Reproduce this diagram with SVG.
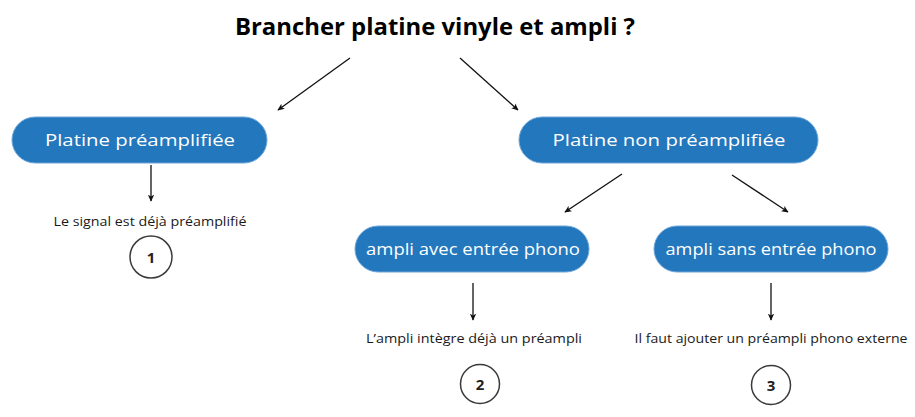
<svg xmlns="http://www.w3.org/2000/svg" width="915" height="417" viewBox="0 0 915 417">
<defs>
<marker id="ah" viewBox="0 0 10 10" refX="9" refY="5" markerWidth="7" markerHeight="7" markerUnits="userSpaceOnUse" orient="auto">
<path d="M0,0.5 L10,5 L0,9.5 L2.5,5 Z" fill="#111"/>
</marker>
<style>
.box{fill:#2377BD;stroke:#6fa6d8;stroke-width:1}
.lbl{font-family:"Open Sans","Liberation Sans",sans-serif;font-size:17px;fill:#fff;text-anchor:middle}
.note{font-family:"Open Sans","Liberation Sans",sans-serif;font-size:12.5px;fill:#1a1a1a;text-anchor:middle}
.num{font-family:"Open Sans","Liberation Sans",sans-serif;font-size:15px;font-weight:bold;fill:#222;text-anchor:middle}
.circ{fill:#fff;stroke:#3a3a3a;stroke-width:1.5}
.con{stroke:#111;stroke-width:1.3;fill:none;marker-end:url(#ah)}
.title{font-family:"Open Sans","Liberation Sans",sans-serif;font-size:23px;font-weight:bold;fill:#000;text-anchor:middle}
</style>
</defs>
<rect width="915" height="417" fill="#fff"/>
<g id="title">
<text class="title" x="435" y="35" textLength="400" lengthAdjust="spacingAndGlyphs">Brancher platine vinyle et ampli ?</text>
</g>
<g id="connectors">
<line class="con" x1="350" y1="58" x2="278" y2="110"/>
<line class="con" x1="460" y1="58" x2="518" y2="110"/>
<line class="con" x1="151" y1="165" x2="151" y2="201"/>
<line class="con" x1="622" y1="174" x2="565" y2="212"/>
<line class="con" x1="732" y1="175" x2="788" y2="212"/>
<line class="con" x1="473" y1="283" x2="473" y2="320"/>
<line class="con" x1="771" y1="283" x2="771" y2="320"/>
</g>
<g id="node-platine-pre">
<rect class="box" x="12" y="117" width="255" height="46" rx="23"/>
<text class="lbl" x="140" y="146" textLength="190" lengthAdjust="spacingAndGlyphs">Platine préamplifiée</text>
</g>
<g id="node-platine-nonpre">
<rect class="box" x="519" y="117" width="299" height="46" rx="23"/>
<text class="lbl" x="669" y="146" textLength="233" lengthAdjust="spacingAndGlyphs">Platine non préamplifiée</text>
</g>
<g id="node-ampli-avec">
<rect class="box" x="355" y="226" width="234" height="46" rx="23"/>
<text class="lbl" x="473" y="255" textLength="214" lengthAdjust="spacingAndGlyphs">ampli avec entrée phono</text>
</g>
<g id="node-ampli-sans">
<rect class="box" x="654" y="226" width="234" height="46" rx="23"/>
<text class="lbl" x="771" y="255" textLength="211" lengthAdjust="spacingAndGlyphs">ampli sans entrée phono</text>
</g>
<g id="result-1">
<text class="note" x="150" y="226" textLength="193" lengthAdjust="spacingAndGlyphs">Le signal est déjà préamplifié</text>
<circle class="circ" cx="151" cy="257" r="21"/>
<text class="num" x="151" y="262.5">1</text>
</g>
<g id="result-2">
<text class="note" x="474" y="343" textLength="216" lengthAdjust="spacingAndGlyphs">L’ampli intègre déjà un préampli</text>
<circle class="circ" cx="480" cy="384" r="19.5"/>
<text class="num" x="480" y="389.5">2</text>
</g>
<g id="result-3">
<text class="note" x="771" y="343" textLength="273" lengthAdjust="spacingAndGlyphs">Il faut ajouter un préampli phono externe</text>
<circle class="circ" cx="771" cy="385" r="19.5"/>
<text class="num" x="771" y="390.5">3</text>
</g>
</svg>
